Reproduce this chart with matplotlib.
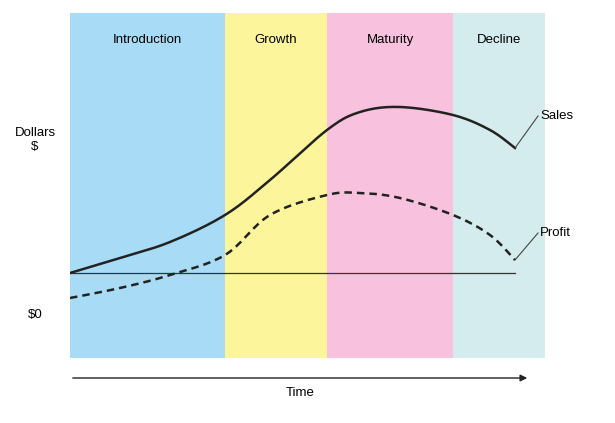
import numpy as np
import matplotlib.pyplot as plt

stages = ["Introduction", "Growth", "Maturity", "Decline"]
stage_edges = [0, 155, 257, 383, 475]
stage_colors = ["#a8dcf6", "#fdf59c", "#f8c1dd", "#d5ecef"]

time = [0, 50, 100, 155, 200, 257, 290, 330, 383, 420, 445]
sales = [85, 100, 116, 143, 178, 228, 246, 251, 243, 228, 210]
profit = [60, 70, 83, 103, 143, 163, 165, 160, 143, 123, 98]
baseline = 85


def smooth(xs, ys, n=20):
    # Catmull-Rom curve through the read points, only for drawing
    p = np.column_stack([xs, ys]).astype(float)
    p = np.vstack([p[0], p, p[-1]])
    out = []
    t = np.linspace(0, 1, n, endpoint=False)[:, None]
    for i in range(1, len(p) - 2):
        p0, p1, p2, p3 = p[i-1], p[i], p[i+1], p[i+2]
        seg = 0.5 * ((2*p1) + (-p0 + p2)*t + (2*p0 - 5*p1 + 4*p2 - p3)*t**2 + (-p0 + 3*p1 - 3*p2 + p3)*t**3)
        out.append(seg)
    out.append(p[-2][None, :])
    out = np.vstack(out)
    return out[:, 0], out[:, 1]


plt.rcParams['font.family'] = ['Liberation Sans Narrow', 'Liberation Sans', 'DejaVu Sans']
fig = plt.figure(figsize=(6.15, 4.23), dpi=100)
ax = fig.add_axes([70/615, 65/423, 475/615, 345/423])
ax.set_xlim(0, 475)
ax.set_ylim(0, 345)
ax.axis('off')

for i, name in enumerate(stages):
    ax.axvspan(stage_edges[i], stage_edges[i+1], color=stage_colors[i], lw=0)
    ax.text((stage_edges[i] + stage_edges[i+1]) / 2, 318, name, ha='center', va='center', fontsize=9.5)

ax.plot([0, 445], [baseline, baseline], color='#333333', lw=0.9)
ax.plot(*smooth(time, sales), color='#222222', lw=1.8)
ax.plot(*smooth(time, profit), color='#222222', lw=1.8, ls=(0, (3, 2)))

ax.plot([time[-1], 468], [sales[-1], 242], color='#444444', lw=0.8, clip_on=False)
ax.plot([time[-1], 468], [profit[-1], 125], color='#444444', lw=0.8, clip_on=False)
ax.text(470, 242, "Sales", va='center', fontsize=9.5, clip_on=False)
ax.text(470, 125, "Profit", va='center', fontsize=9.5, clip_on=False)

fig.text(35/615, 1 - 140/423, "Dollars\n$", ha='center', va='center', fontsize=9.5)
fig.text(35/615, 1 - 315/423, "$0", ha='center', va='center', fontsize=9.5)
fig.text(300/615, 1 - 393/423, "Time", ha='center', va='center', fontsize=9.5)
fig.add_artist(plt.Annotation('', xy=(530/615, 1 - 378/423), xytext=(70/615, 1 - 378/423),
                              xycoords='figure fraction',
                              arrowprops=dict(arrowstyle='-|>', color='#222222', lw=1)))

fig.savefig('out.png', dpi=100)
